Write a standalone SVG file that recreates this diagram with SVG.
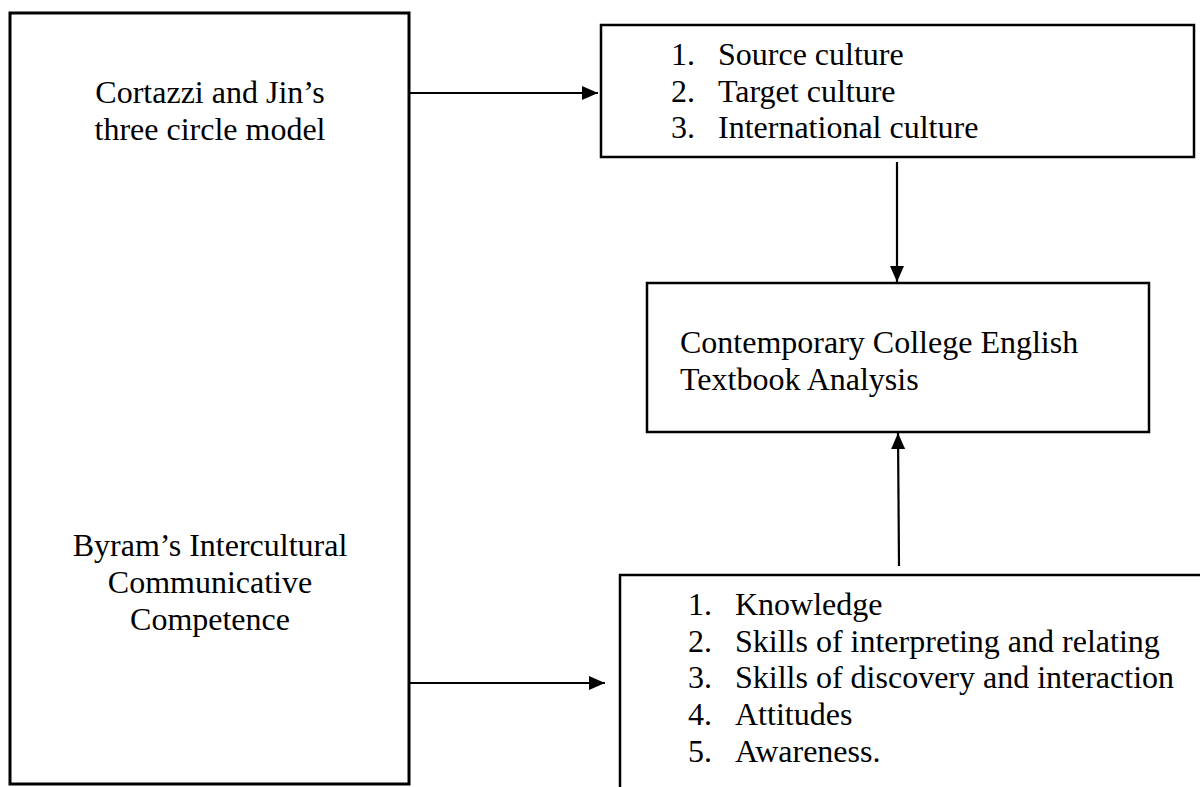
<svg xmlns="http://www.w3.org/2000/svg" width="1200" height="787" viewBox="0 0 1200 787">
<defs>
<style>
.box{fill:#fff;stroke:#000;stroke-width:2.5}
.t{font-family:"Liberation Serif","Times New Roman",serif;font-size:32px;fill:#000}
.c{text-anchor:middle}
.conn{stroke:#000;stroke-width:2.2;fill:none}
</style>
<marker id="ah" markerUnits="userSpaceOnUse" markerWidth="16" markerHeight="16" viewBox="0 0 16 16" refX="16" refY="8" orient="auto">
<path d="M0,1 L16,8 L0,15 Z" fill="#000"/>
</marker>
</defs>
<rect width="1200" height="787" fill="#fff"/>
<g id="left-box">
<rect class="box" x="10" y="13" width="399" height="771" style="stroke-width:3"/>
<text class="t c" x="210" y="103">Cortazzi and Jin’s</text>
<text class="t c" x="210" y="140">three circle model</text>
<text class="t c" x="210" y="556">Byram’s Intercultural</text>
<text class="t c" x="210" y="593">Communicative</text>
<text class="t c" x="210" y="630">Competence</text>
</g>
<g id="culture-box">
<rect class="box" x="601" y="25" width="593" height="132"/>
<text class="t" x="671" y="65">1.</text><text class="t" x="718" y="65">Source culture</text>
<text class="t" x="671" y="102">2.</text><text class="t" x="718" y="102">Target culture</text>
<text class="t" x="671" y="138">3.</text><text class="t" x="718" y="138">International culture</text>
</g>
<g id="analysis-box">
<rect class="box" x="647" y="283" width="502" height="149"/>
<text class="t" x="680" y="353">Contemporary College English</text>
<text class="t" x="680" y="390">Textbook Analysis</text>
</g>
<g id="icc-box">
<path class="box" d="M1203,575 H620 V790" style="fill:none"/>
<text class="t" x="688" y="615">1.</text><text class="t" x="735" y="615">Knowledge</text>
<text class="t" x="688" y="652">2.</text><text class="t" x="735" y="652">Skills of interpreting and relating</text>
<text class="t" x="688" y="688">3.</text><text class="t" x="735" y="688">Skills of discovery and interaction</text>
<text class="t" x="688" y="725">4.</text><text class="t" x="735" y="725">Attitudes</text>
<text class="t" x="688" y="762">5.</text><text class="t" x="735" y="762">Awareness.</text>
</g>
<g id="connectors">
<line class="conn" x1="408" y1="93" x2="598" y2="93" marker-end="url(#ah)"/>
<line class="conn" x1="408" y1="683" x2="605" y2="683" marker-end="url(#ah)"/>
<line class="conn" x1="897" y1="162" x2="897" y2="282" marker-end="url(#ah)"/>
<line class="conn" x1="899" y1="566" x2="898" y2="433" marker-end="url(#ah)"/>
</g>
</svg>
